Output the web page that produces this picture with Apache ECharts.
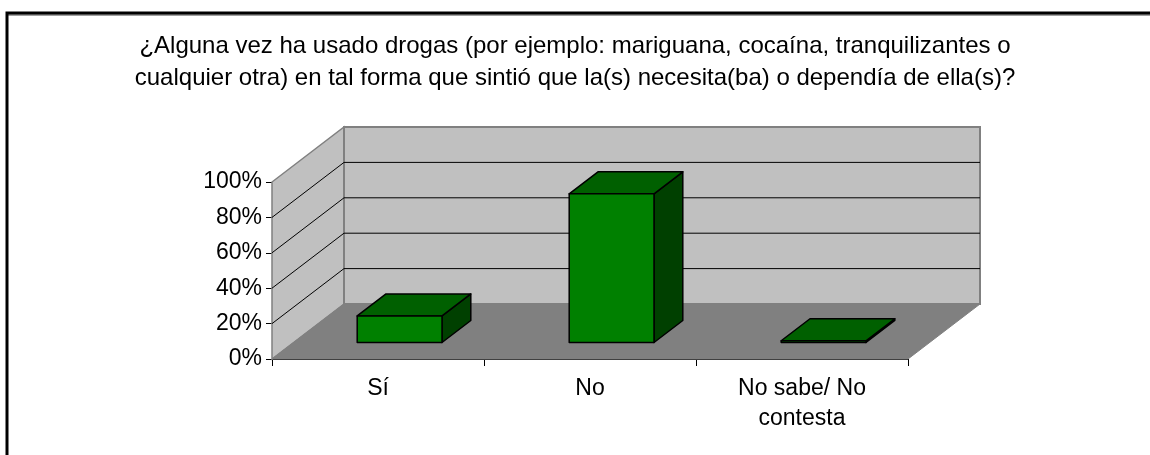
<!DOCTYPE html>
<html>
<head>
<meta charset="utf-8">
<script src="https://cdn.jsdelivr.net/npm/echarts@6/dist/echarts.min.js"></script>
<style>html,body{margin:0;padding:0;background:#fff;overflow:hidden;}#chart{width:1150px;height:455px;}</style>
</head>
<body>
<div id="chart"></div>
<script>
// ---- data ----
var categories = ['Sí', 'No', 'No sabe/ No\ncontesta'];
var values = [15, 84, 1];
var yMin = 0, yMax = 100, yStep = 20;
var titleLines = [
  '¿Alguna vez ha usado drogas (por ejemplo: mariguana, cocaína, tranquilizantes o',
  'cualquier otra) en tal forma que sintió que la(s) necesita(ba) o dependía de ella(s)?'
];

// ---- 3D projection constants (style) ----
var DX = 72, DY = -55;      // depth offset of back wall
var F = 0.3, D = 0.4;       // bar front depth fraction, bar depth fraction
var BARW = 0.4;             // bar width fraction of band

var chart = echarts.init(document.getElementById('chart'), null, {renderer: 'canvas'});

function bgRender(params, api) {
  var band = api.size([1, 0])[0];
  var c0 = api.coord([0, yMin]);
  var L = c0[0] - band / 2;
  var R = api.coord([categories.length - 1, yMin])[0] + band / 2;
  var y0 = c0[1];
  var yT = api.coord([0, yMax])[1];
  var ch = [];
  ch.push({type: 'polygon', shape: {points: [[L, y0], [L, yT], [L + DX, yT + DY], [L + DX, y0 + DY]]},
    style: {fill: '#c0c0c0', stroke: '#808080', lineWidth: 1.5}});
  ch.push({type: 'rect', shape: {x: L + DX, y: yT + DY, width: R - L, height: y0 - yT},
    style: {fill: '#c0c0c0', stroke: '#808080', lineWidth: 2}});
  ch.push({type: 'polygon', shape: {points: [[L, y0], [R, y0], [R + DX, y0 + DY], [L + DX, y0 + DY]]},
    style: {fill: '#808080', stroke: '#808080', lineWidth: 1}});
  for (var t = yMin + yStep; t < yMax; t += yStep) {
    var y = api.coord([0, t])[1];
    ch.push({type: 'polyline', shape: {points: [[L, y], [L + DX, y + DY], [R + DX, y + DY]]},
      style: {fill: null, stroke: '#000', lineWidth: 1}});
  }
  return {type: 'group', children: ch};
}

function barRender(params, api) {
  var i = api.value(0), v = api.value(1);
  var c = api.coord([i, yMin]);
  var t = api.coord([i, v]);
  var band = api.size([1, 0])[0];
  var w = band * BARW;
  var fx = c[0] - w / 2 + F * DX;
  var fy0 = c[1] + F * DY;
  var fy1 = t[1] + F * DY;
  var bx = D * DX, by = D * DY;
  var st = {stroke: '#000', lineWidth: 1.5, lineJoin: 'round'};
  return {type: 'group', children: [
    {type: 'polygon', shape: {points: [[fx + w, fy0], [fx + w, fy1], [fx + w + bx, fy1 + by], [fx + w + bx, fy0 + by]]},
      style: Object.assign({fill: '#004000'}, st)},
    {type: 'polygon', shape: {points: [[fx, fy1], [fx + w, fy1], [fx + w + bx, fy1 + by], [fx + bx, fy1 + by]]},
      style: Object.assign({fill: '#006000'}, st)},
    {type: 'rect', shape: {x: fx, y: fy1, width: w, height: Math.max(fy0 - fy1, 0.5)},
      style: Object.assign({fill: '#008000'}, st)}
  ]};
}

var option = {
  animation: false,
  backgroundColor: '#fff',
  title: {
    text: titleLines.join('\n'),
    left: 'center', top: 25,
    textStyle: {fontFamily: 'Liberation Sans', fontSize: 24, fontWeight: 'normal', color: '#000', lineHeight: 32}
  },
  graphic: [
    {type: 'polyline', z: 99, shape: {points: [[7, 470], [7, 15], [1170, 15]]},
      style: {fill: null, stroke: '#a0a0a0', lineWidth: 2}},
    {type: 'polyline', z: 100, shape: {points: [[7, 470], [7, 13], [1170, 13]]},
      style: {fill: null, stroke: '#000', lineWidth: 3}},
    {type: 'rect', z: 101, shape: {x: 1138, y: 17, width: 20, height: 450},
      style: {fill: '#fff', stroke: null}}
  ],
  grid: {left: 272, right: 242, top: 182, bottom: 96},
  xAxis: {
    type: 'category', data: categories,
    axisLine: {lineStyle: {color: '#000', width: 1}},
    axisTick: {show: true, length: 7, lineStyle: {color: '#000'}},
    axisLabel: {color: '#000', fontFamily: 'Liberation Sans', fontSize: 23, margin: 15, lineHeight: 30, interval: 0},
    splitLine: {show: false}
  },
  yAxis: {
    type: 'value', min: yMin, max: yMax, interval: yStep,
    axisLine: {show: true, lineStyle: {color: '#000', width: 1}},
    axisTick: {show: true, length: 6, lineStyle: {color: '#000'}},
    axisLabel: {color: '#000', fontFamily: 'Liberation Sans', fontSize: 23, margin: 10, formatter: '{value}%'},
    splitLine: {show: false}
  },
  series: [
    {type: 'custom', renderItem: bgRender, data: [[0, 0]], z: 1, silent: true, encode: {x: 0, y: 1}},
    {type: 'custom', renderItem: barRender, data: values.map(function (v, i) { return [i, v]; }), z: 2, encode: {x: 0, y: 1}}
  ]
};
chart.setOption(option);
</script>
</body>
</html>
